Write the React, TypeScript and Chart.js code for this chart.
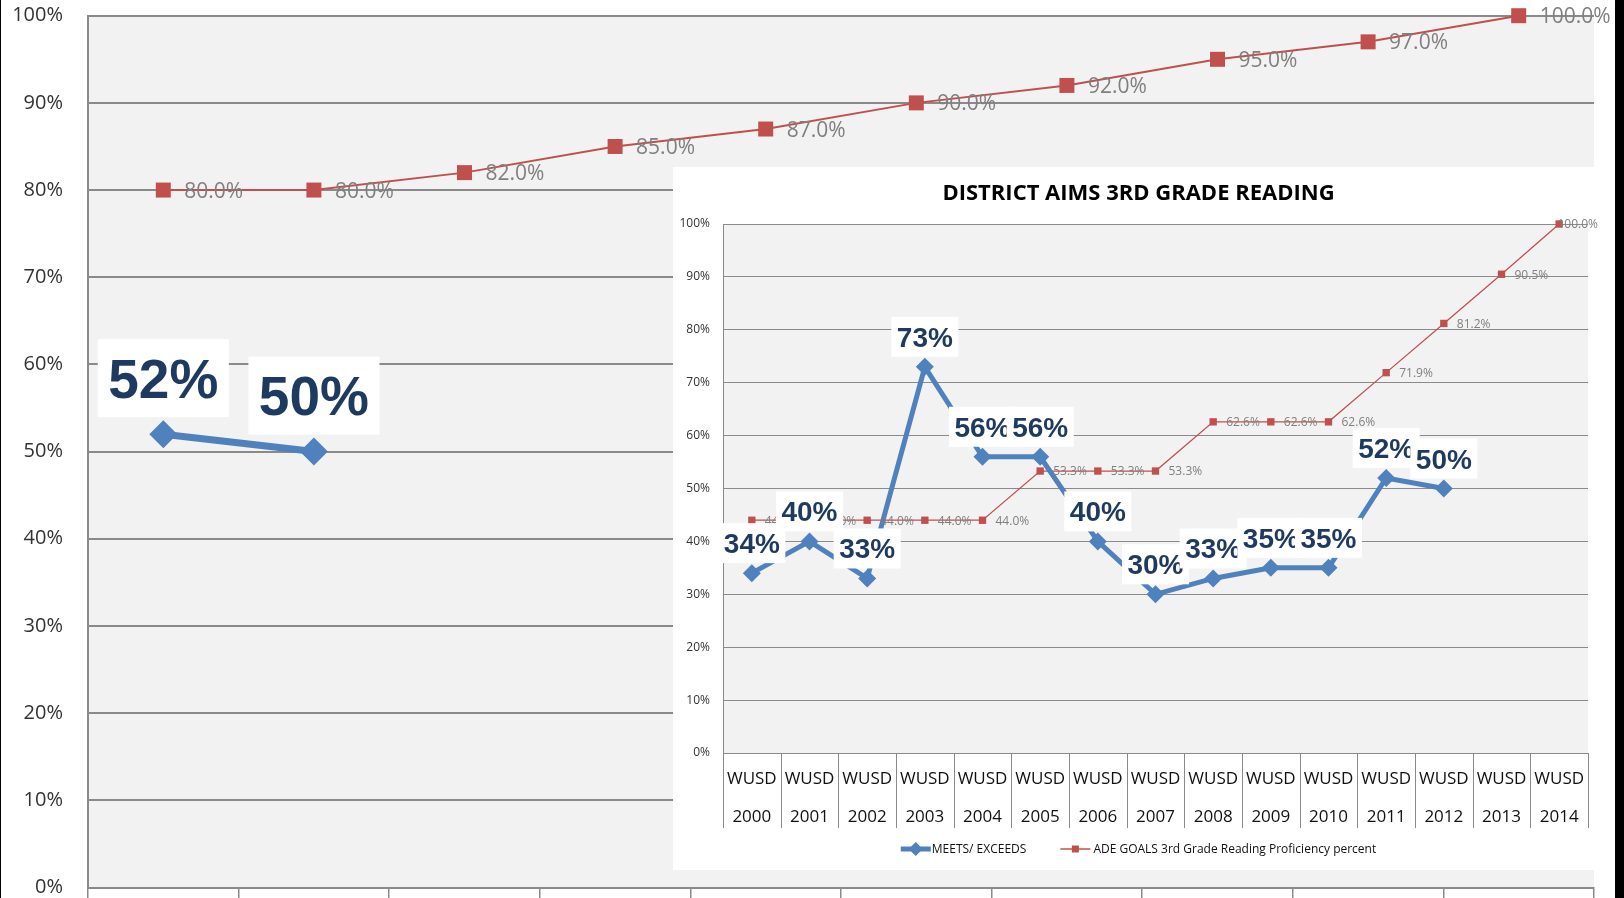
import React, { useEffect, useRef } from 'react';
import { Chart, registerables } from 'chart.js';

Chart.register(...registerables);

// ---------- data ----------
const SERIES_MEETS = 'MEETS/ EXCEEDS';
const SERIES_GOALS = 'ADE GOALS 3rd Grade Reading Proficiency percent';
const INSET_TITLE = 'DISTRICT AIMS 3RD GRADE READING';
const DISTRICT = 'WUSD';
const INSET_YEARS = ['2000', '2001', '2002', '2003', '2004', '2005', '2006', '2007', '2008', '2009', '2010', '2011', '2012', '2013', '2014'];
const INSET_MEETS = [34, 40, 33, 73, 56, 56, 40, 30, 33, 35, 35, 52, 50, null, null];
const INSET_GOALS = [44.0, 44.0, 44.0, 44.0, 44.0, 53.3, 53.3, 53.3, 62.6, 62.6, 62.6, 71.9, 81.2, 90.5, 100.0];

const ZOOM_CATEGORIES = ['', '', '', '', '', '', '', '', '', ''];
const ZOOM_MEETS = [52, 50, null, null, null, null, null, null, null, null];
const ZOOM_GOALS = [80.0, 80.0, 82.0, 85.0, 87.0, 90.0, 92.0, 95.0, 97.0, 100.0];

const Y_MIN = 0;
const Y_MAX = 100;
const Y_STEP = 10;

// ---------- styles ----------
const BLUE = '#4f81bd';
const RED = '#c0504d';
const NAVY = '#1f3a5f';
const GRID = '#8a8a8a';
const PLOT_BG = '#f2f2f2';
const SANS = "'Open Sans', 'DejaVu Sans', sans-serif";
const BOLD_SANS = "'Liberation Sans', Arial, sans-serif";

type LabelCfg = {
  goalFont: number;
  goalDx: number;
  meetFont: number;
  boxPadX: number;
  boxH: number;
  boxDy: number;
};

function labelPlugin(cfg: LabelCfg) {
  return {
    id: 'valueLabels',
    beforeDraw(chart: any) {
      const { ctx, chartArea } = chart;
      ctx.save();
      ctx.fillStyle = PLOT_BG;
      ctx.fillRect(chartArea.left, chartArea.top, chartArea.right - chartArea.left, chartArea.bottom - chartArea.top);
      ctx.restore();
    },
    afterDatasetsDraw(chart: any) {
      const ctx = chart.ctx;
      ctx.save();
      // goal labels (dataset 1)
      const goalData = chart.data.datasets[1].data;
      const goalMeta = chart.getDatasetMeta(1);
      ctx.font = `${cfg.goalFont}px ${SANS}`;
      ctx.fillStyle = '#7f7f7f';
      ctx.textAlign = 'left';
      ctx.textBaseline = 'alphabetic';
      goalMeta.data.forEach((el: any, i: number) => {
        const v = goalData[i];
        if (v == null) return;
        const text = v.toFixed(1) + '%';
        const tw = ctx.measureText(text).width;
        const x = Math.min(el.x + cfg.goalDx, chart.width - 6 - tw);
        ctx.fillText(text, x, el.y + cfg.goalFont * 0.357);
      });
      // meets labels (dataset 0) with white boxes
      const meetData = chart.data.datasets[0].data;
      const meetMeta = chart.getDatasetMeta(0);
      ctx.font = `bold ${cfg.meetFont}px ${BOLD_SANS}`;
      meetMeta.data.forEach((el: any, i: number) => {
        const v = meetData[i];
        if (v == null) return;
        const text = Math.round(v) + '%';
        const w = ctx.measureText(text).width + cfg.boxPadX * 2;
        const cy = el.y - cfg.boxDy;
        ctx.fillStyle = '#ffffff';
        ctx.fillRect(el.x - w / 2, cy - cfg.boxH / 2, w, cfg.boxH);
        ctx.fillStyle = NAVY;
        ctx.textAlign = 'center';
        ctx.fillText(text, el.x, cy + cfg.meetFont * 0.358);
      });
      ctx.restore();
    },
  };
}

const insetExtras = {
  id: 'insetExtras',
  afterDraw(chart: any) {
    const { ctx, chartArea } = chart;
    const xs = chart.scales.x;
    const n = INSET_YEARS.length;
    const step = (chartArea.right - chartArea.left) / n;
    const top = chartArea.bottom;
    ctx.save();
    // title
    ctx.font = `bold 22px ${SANS}`;
    ctx.fillStyle = '#000';
    ctx.textAlign = 'center';
    ctx.textBaseline = 'alphabetic';
    ctx.fillText(INSET_TITLE, chart.width / 2, 33);
    // category separators
    ctx.strokeStyle = GRID;
    ctx.lineWidth = 1;
    for (let i = 0; i <= n; i++) {
      const x = Math.round(chartArea.left + i * step) + 0.5;
      ctx.beginPath();
      ctx.moveTo(x, top);
      ctx.lineTo(x, top + 75);
      ctx.stroke();
    }
    // category labels
    ctx.font = `17px ${SANS}`;
    ctx.fillStyle = '#111';
    INSET_YEARS.forEach((yr, i) => {
      const x = xs.getPixelForValue(i);
      ctx.fillText(DISTRICT, x, top + 25 + 17 * 0.357);
      ctx.fillText(yr, x, top + 63 + 17 * 0.357);
    });
    // legend
    ctx.font = `12px ${SANS}`;
    const ly = top + 96;
    const sampleW = 30;
    const gap = 34;
    const w1 = ctx.measureText(SERIES_MEETS).width;
    const w2 = ctx.measureText(SERIES_GOALS).width;
    const total = sampleW + 1 + w1 + gap + sampleW + 3 + w2;
    let x = chart.width / 2 - total / 2;
    // blue sample
    ctx.strokeStyle = BLUE;
    ctx.lineWidth = 5;
    ctx.beginPath();
    ctx.moveTo(x, ly);
    ctx.lineTo(x + sampleW, ly);
    ctx.stroke();
    ctx.fillStyle = BLUE;
    ctx.beginPath();
    const cx1 = x + sampleW / 2;
    ctx.moveTo(cx1, ly - 7);
    ctx.lineTo(cx1 + 7, ly);
    ctx.lineTo(cx1, ly + 7);
    ctx.lineTo(cx1 - 7, ly);
    ctx.closePath();
    ctx.fill();
    x += sampleW + 1;
    ctx.fillStyle = '#111';
    ctx.textAlign = 'left';
    ctx.fillText(SERIES_MEETS, x, ly + 12 * 0.357);
    x += w1 + gap;
    // red sample
    ctx.strokeStyle = RED;
    ctx.lineWidth = 1.5;
    ctx.beginPath();
    ctx.moveTo(x, ly);
    ctx.lineTo(x + sampleW, ly);
    ctx.stroke();
    ctx.fillStyle = RED;
    ctx.fillRect(x + sampleW / 2 - 3.5, ly - 3.5, 7, 7);
    x += sampleW + 3;
    ctx.fillStyle = '#111';
    ctx.fillText(SERIES_GOALS, x, ly + 12 * 0.357);
    ctx.restore();
  },
};

function yScale(fontSize: number, padding: number, width: number, gridWidth: number) {
  return {
    min: Y_MIN,
    max: Y_MAX,
    ticks: {
      stepSize: Y_STEP,
      callback: (v: any) => v + '%',
      padding,
      color: '#333',
      font: { family: SANS, size: fontSize },
    },
    grid: { color: GRID, lineWidth: gridWidth, drawTicks: false },
    border: { display: true, color: GRID, width: gridWidth },
    afterFit: (s: any) => {
      s.width = width;
      s.paddingTop = 0;
      s.paddingBottom = 0;
    },
  };
}

export default function App() {
  const bgRef = useRef<HTMLCanvasElement | null>(null);
  const insetRef = useRef<HTMLCanvasElement | null>(null);

  useEffect(() => {
    const bg = new Chart(bgRef.current as HTMLCanvasElement, {
      type: 'line',
      data: {
        labels: ZOOM_CATEGORIES,
        datasets: [
          {
            label: SERIES_MEETS,
            data: ZOOM_MEETS,
            borderColor: BLUE,
            backgroundColor: BLUE,
            borderWidth: 7,
            pointStyle: 'rectRot',
            pointRadius: 14,
            pointBorderWidth: 0,
            pointBackgroundColor: BLUE,
            tension: 0,
            clip: false,
          } as any,
          {
            label: SERIES_GOALS,
            data: ZOOM_GOALS,
            borderColor: RED,
            backgroundColor: RED,
            borderWidth: 2,
            pointStyle: 'rect',
            pointRadius: 10.6,
            pointBorderWidth: 0,
            pointBackgroundColor: RED,
            tension: 0,
            clip: false,
          } as any,
        ],
      },
      options: {
        animation: false,
        responsive: false,
        events: [],
        layout: { padding: { top: 15.7, right: 30, left: 0, bottom: 0 }, autoPadding: false } as any,
        plugins: { legend: { display: false }, tooltip: { enabled: false }, title: { display: false } },
        scales: {
          x: {
            offset: true,
            ticks: { display: false },
            grid: { offset: true, drawOnChartArea: false, drawTicks: true, tickLength: 14, color: GRID, lineWidth: 1.5 },
            border: { display: true, color: GRID, width: 2 },
            afterFit: (s: any) => {
              s.height = 10.5;
            },
          } as any,
          y: yScale(20, 25, 88, 2) as any,
        },
      },
      plugins: [labelPlugin({ goalFont: 21, goalDx: 21, meetFont: 55, boxPadX: 10.5, boxH: 78, boxDy: 56 })],
    });

    const inset = new Chart(insetRef.current as HTMLCanvasElement, {
      type: 'line',
      data: {
        labels: INSET_YEARS,
        datasets: [
          {
            label: SERIES_MEETS,
            data: INSET_MEETS,
            borderColor: BLUE,
            backgroundColor: BLUE,
            borderWidth: 5,
            pointStyle: 'rectRot',
            pointRadius: 9,
            pointBorderWidth: 0,
            pointBackgroundColor: BLUE,
            tension: 0,
            spanGaps: false,
            clip: false,
          } as any,
          {
            label: SERIES_GOALS,
            data: INSET_GOALS,
            borderColor: RED,
            backgroundColor: RED,
            borderWidth: 1.25,
            pointStyle: 'rect',
            pointRadius: 5.2,
            pointBorderWidth: 0,
            pointBackgroundColor: RED,
            tension: 0,
            clip: false,
          } as any,
        ],
      },
      options: {
        animation: false,
        responsive: false,
        events: [],
        layout: { padding: { top: 57, right: 16, left: 0, bottom: 0 }, autoPadding: false } as any,
        plugins: { legend: { display: false }, tooltip: { enabled: false }, title: { display: false } },
        scales: {
          x: {
            offset: true,
            ticks: { display: false },
            grid: { display: false },
            border: { display: true, color: GRID, width: 1 },
            afterFit: (s: any) => {
              s.height = 117;
            },
          } as any,
          y: yScale(12, 13, 50, 1) as any,
        },
      },
      plugins: [labelPlugin({ goalFont: 12, goalDx: 13, meetFont: 28, boxPadX: 5.5, boxH: 40, boxDy: 30 }), insetExtras],
    });

    return () => {
      bg.destroy();
      inset.destroy();
    };
  }, []);

  return (
    <div
      style={{
        position: 'absolute',
        left: 0,
        top: 0,
        width: 1624,
        height: 898,
        overflow: 'hidden',
        background: '#ffffff',
      }}
    >
      <canvas ref={bgRef} width={1624} height={898} style={{ position: 'absolute', left: 0, top: 0, width: 1624, height: 898 }} />
      <div style={{ position: 'absolute', left: 673, top: 167, width: 931, height: 703, background: '#ffffff' }}>
        <canvas ref={insetRef} width={931} height={703} style={{ position: 'absolute', left: 0, top: 0, width: 931, height: 703 }} />
      </div>
      <div style={{ position: 'absolute', left: 0, top: 0, width: 1, height: 898, background: '#000' }} />
      <div style={{ position: 'absolute', left: 1615, top: 0, width: 9, height: 898, background: '#000' }} />
    </div>
  );
}
